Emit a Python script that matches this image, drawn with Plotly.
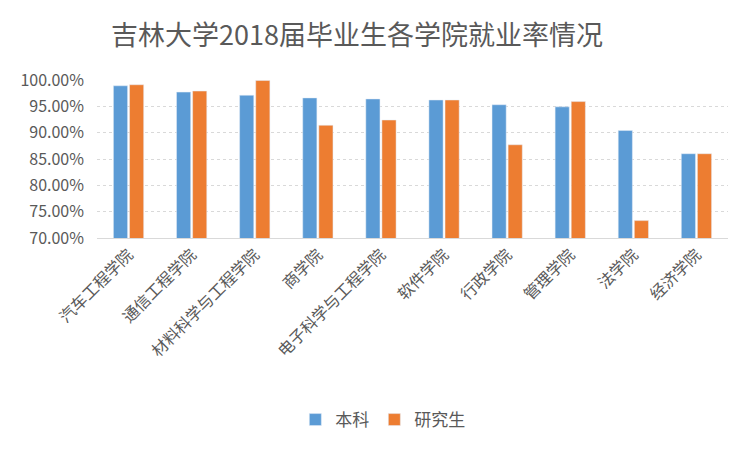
import plotly.graph_objects as go

colleges = ["汽车工程学院", "通信工程学院", "材料科学与工程学院", "商学院", "电子科学与工程学院",
            "软件学院", "行政学院", "管理学院", "法学院", "经济学院"]
undergrad = [0.989, 0.977, 0.971, 0.966, 0.964, 0.962, 0.953, 0.949, 0.904, 0.860]
postgrad = [0.991, 0.979, 0.999, 0.914, 0.924, 0.962, 0.877, 0.959, 0.733, 0.860]

FONT = "Noto Sans CJK SC"
GREY = "#595959"

fig = go.Figure()
fig.add_trace(go.Bar(x=colleges, y=undergrad, name="本科", marker_color="#5b9bd5"))
fig.add_trace(go.Bar(x=colleges, y=postgrad, name="研究生", marker_color="#ed7d31"))

# the page body adds an 8px offset, so the figure is 8px smaller each way
fig.update_layout(
    width=744, height=444,
    margin=dict(l=89, r=24, t=72, b=214),
    paper_bgcolor="white", plot_bgcolor="white",
    font=dict(family=FONT, color=GREY),
    title=dict(text="吉林大学2018届毕业生各学院就业率情况", x=0.469, xanchor="center",
               y=0.939, yanchor="middle", font=dict(size=27, color=GREY, family=FONT)),
    barmode="group", bargap=0.49, bargroupgap=0.12,
    legend=dict(orientation="h", x=0.453, xanchor="center", yref="container", y=0.072,
                yanchor="middle", font=dict(size=17, color=GREY), itemwidth=30),
)
fig.update_yaxes(range=[0.70, 1.0], dtick=0.05, tickformat=".2%", showgrid=True,
                 gridcolor="#d9d9d9", griddash="dot", tickfont=dict(size=16, color=GREY),
                 zeroline=False, ticks="", showline=False, automargin=False,
                 ticklabelstandoff=12)
fig.update_xaxes(tickangle=-45, tickfont=dict(size=16, color=GREY), showline=True,
                 linecolor="#d9d9d9", ticks="", automargin=False)

fig.write_html("out.html")
